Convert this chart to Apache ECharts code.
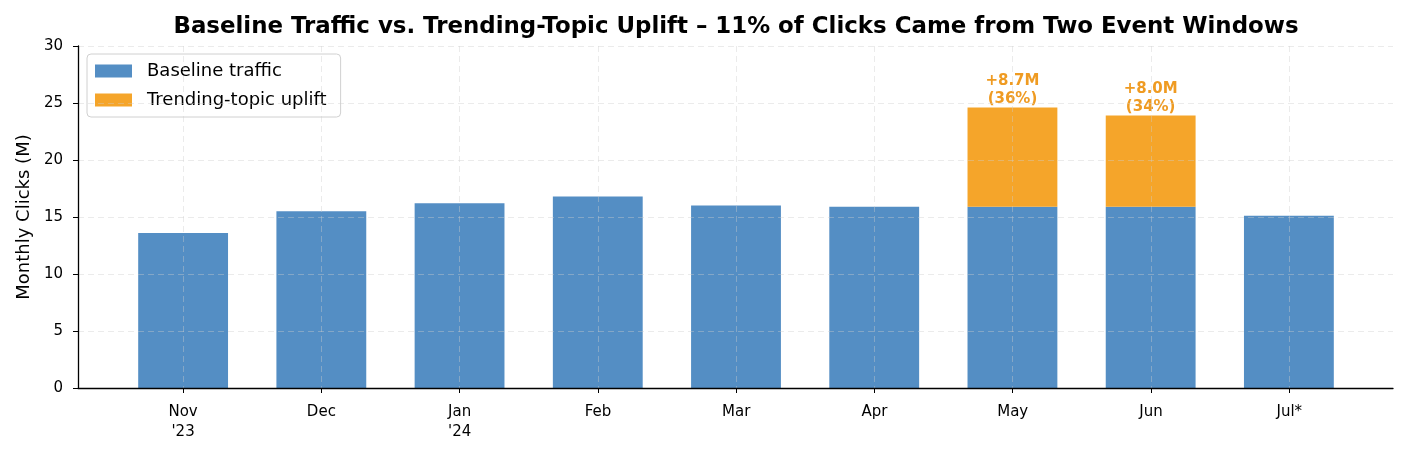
<!DOCTYPE html>
<html lang="en">
<head>
<meta charset="UTF-8">
<title>Baseline Traffic vs. Trending-Topic Uplift</title>
<script src="https://cdn.jsdelivr.net/npm/echarts@6/dist/echarts.min.js"></script>
<style>
    * { margin: 0; padding: 0; }
    #chart { width: 1409px; height: 456px; background: #fff; }
</style>
</head>
<body>
<div id="chart"></div>
<script type="text/javascript">
    // data
    var categories = ["Nov\n'23", "Dec", "Jan\n'24", "Feb", "Mar", "Apr", "May", "Jun", "Jul*"];
    var baseline = [13.6, 15.5, 16.2, 16.8, 16.0, 15.9, 15.9, 15.9, 15.1];
    var uplift = [null, null, null, null, null, null, 8.7, 8.0, null];
    var upliftShare = ["", "", "", "", "", "", "36%", "34%", ""];
    var yTicks = [0, 5, 10, 15, 20, 25, 30];

    var font = "DejaVu Sans";
    var idx = categories.map(function (c, i) { return i; });
    var gridLine = { show: true, lineStyle: { color: 'rgba(205,205,205,0.4)', type: [6, 4], width: 1 } };

    var myChart = echarts.init(document.getElementById('chart'));

    // grid 0 = frame (spines, ticks, labels, grid lines), grid 1 = the bars
    // matplotlib-like xlim -0.76 .. 8.75, 138.25px per category
    var option = {
        animation: false,
        textStyle: { fontFamily: font },
        title: {
            text: 'Baseline Traffic vs. Trending-Topic Uplift \u2013 11% of Clicks Came from Two Event Windows',
            left: 731,
            top: 11,
            textAlign: 'center',
            textStyle: { fontFamily: font, fontSize: 22.9, fontWeight: 'bold', color: '#000' }
        },
        legend: {
            orient: 'vertical',
            left: 87,
            top: 54,
            itemWidth: 37,
            itemHeight: 13,
            itemGap: 11,
            icon: 'rect',
            padding: [8, 14, 8, 8],
            borderColor: '#d0d0d0',
            borderWidth: 1,
            borderRadius: 4,
            backgroundColor: '#fff',
            textStyle: { fontFamily: font, fontSize: 18, color: '#000', padding: [0, 0, 0, 10] },
            data: ['Baseline traffic', 'Trending-topic uplift']
        },
        grid: [
            { left: 78, right: 16, top: 46, bottom: 68 },
            { left: 114, right: 51, top: 46, bottom: 68 }
        ],
        xAxis: [
            {
                type: 'value',
                gridIndex: 0,
                min: -0.76,
                max: 8.75,
                z: 5,
                axisLine: { show: true, onZero: false, lineStyle: { color: '#000', width: 1.3 } },
                axisTick: { show: true, customValues: idx, length: 5, lineStyle: { color: '#000' } },
                axisLabel: {
                    customValues: idx,
                    formatter: function (v) { return categories[Math.round(v)]; },
                    fontFamily: font, fontSize: 15, color: '#000', lineHeight: 20, margin: 14
                },
                splitLine: gridLine
            },
            {
                type: 'category',
                gridIndex: 1,
                data: categories,
                show: false
            }
        ],
        yAxis: [
            {
                type: 'value',
                gridIndex: 0,
                min: yTicks[0],
                max: yTicks[yTicks.length - 1],
                interval: 5,
                z: 5,
                name: 'Monthly Clicks (M)',
                nameLocation: 'middle',
                nameGap: 45,
                nameTextStyle: { fontFamily: font, fontSize: 18, color: '#000' },
                axisLine: { show: true, onZero: false, lineStyle: { color: '#000', width: 1.3 } },
                axisTick: { show: true, length: 5, lineStyle: { color: '#000' } },
                axisLabel: { fontFamily: font, fontSize: 15, color: '#000', margin: 15 },
                splitLine: gridLine
            },
            {
                type: 'value',
                gridIndex: 1,
                min: yTicks[0],
                max: yTicks[yTicks.length - 1],
                show: false
            }
        ],
        series: [
            {
                name: 'Baseline traffic',
                type: 'bar',
                xAxisIndex: 1,
                yAxisIndex: 1,
                stack: 'total',
                barWidth: '65%',
                itemStyle: { color: '#548ec4' },
                data: baseline
            },
            {
                name: 'Trending-topic uplift',
                type: 'bar',
                xAxisIndex: 1,
                yAxisIndex: 1,
                stack: 'total',
                barWidth: '65%',
                itemStyle: { color: '#f5a52a' },
                label: {
                    show: true,
                    position: 'top',
                    distance: -1,
                    fontFamily: font,
                    fontSize: 15,
                    fontWeight: 'bold',
                    color: '#ef9b22',
                    lineHeight: 18,
                    formatter: function (p) {
                        var i = p.dataIndex;
                        return '+' + uplift[i].toFixed(1) + 'M\n(' + upliftShare[i] + ')';
                    }
                },
                data: uplift
            }
        ]
    };

    myChart.setOption(option);
</script>
</body>
</html>
